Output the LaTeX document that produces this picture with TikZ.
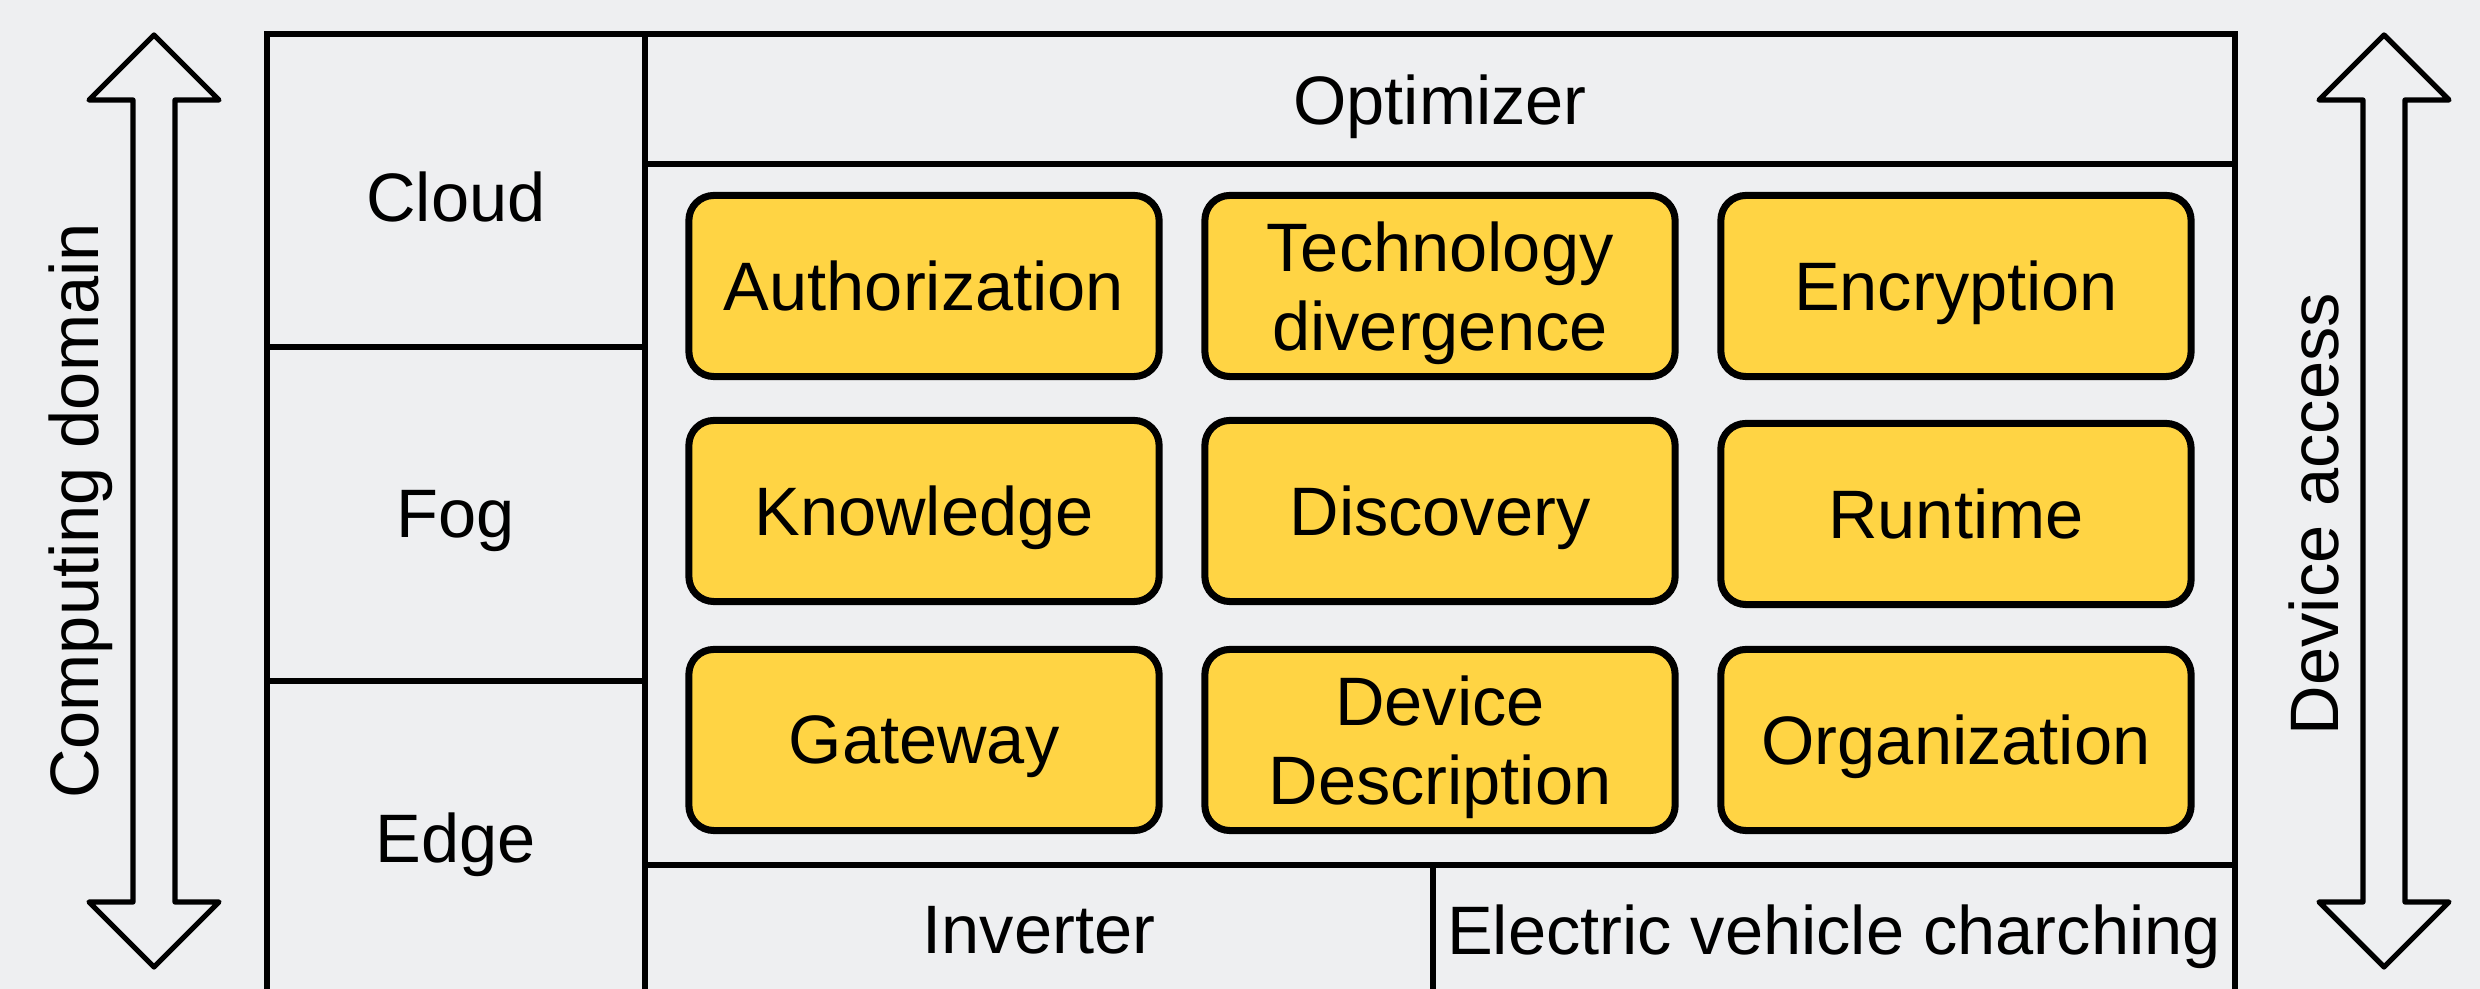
\documentclass[tikz,border=0pt]{standalone}
\usepackage{fontspec}
\setmainfont{Liberation Sans}

\definecolor{panelgrey}{HTML}{EEEFF1}
\definecolor{blockyellow}{HTML}{FFD444}

\tikzset{
  gridline/.style={line width=1.6pt},
  block/.style={draw, line width=2pt, fill=blockyellow, rounded corners=0.25cm,
    minimum width=4.7cm, minimum height=1.81cm, align=center, inner sep=0pt},
  sidearrow/.style={line width=1.5pt, line join=round},
}

\begin{document}
\begin{tikzpicture}[x=0.01cm, y=-0.01cm, font=\fontsize{19.5}{22.5}\selectfont,
    every node/.append style={text depth=0pt}]
    \fill[panelgrey] (0,0) rectangle (2480,989);
    \useasboundingbox (0,0) rectangle (2480,989);

    % Table frame (runs off the bottom edge)
    \draw[gridline] (267,1010) -- (267,34) -- (2235,34) -- (2235,1010);
    \draw[gridline] (645,34) -- (645,1010);
    \draw[gridline] (645,164) -- (2235,164);
    \draw[gridline] (267,347) -- (645,347);
    \draw[gridline] (267,681) -- (645,681);
    \draw[gridline] (645,865) -- (2235,865);
    \draw[gridline] (1433,865) -- (1433,1010);

    % Layers
    \node (cloud) at (456,197) {Cloud};
    \node (fog) at (456,514) {Fog};
    \node (edge) at (456,838) {Edge};

    \node (optimizer) at (1440,100) {Optimizer};
    \node (inverter) at (1039,930) {Inverter};
    \node (evcharge) at (1834,930) {Electric vehicle charching};

    % Building blocks
    \node[block] (auth) at (924,286) {Authorization};
    \node[block] (techdiv) at (1440,286) {Technology\\divergence};
    \node[block] (encrypt) at (1956,286) {Encryption};

    \node[block] (knowledge) at (924,511) {Knowledge};
    \node[block] (discovery) at (1440,511) {Discovery};
    \node[block] (runtime) at (1956,514) {Runtime};

    \node[block] (gateway) at (924,740) {Gateway};
    \node[block] (devdesc) at (1440,740) {Device\\Description};
    \node[block] (organization) at (1956,740) {Organization};

    % Double-headed arrows on both sides
    \foreach \ax in {154,2384} {
      \draw[sidearrow] (\ax,35) -- (\ax+65,100) -- (\ax+21,100) -- (\ax+21,902)
        -- (\ax+65,902) -- (\ax,967) -- (\ax-65,902) -- (\ax-21,902)
        -- (\ax-21,100) -- (\ax-65,100) -- cycle;
    }
    \node[rotate=90] (computing) at (74,511) {Computing domain};
    \node[rotate=90] (access) at (2314,514) {Device access};
\end{tikzpicture}
\end{document}
